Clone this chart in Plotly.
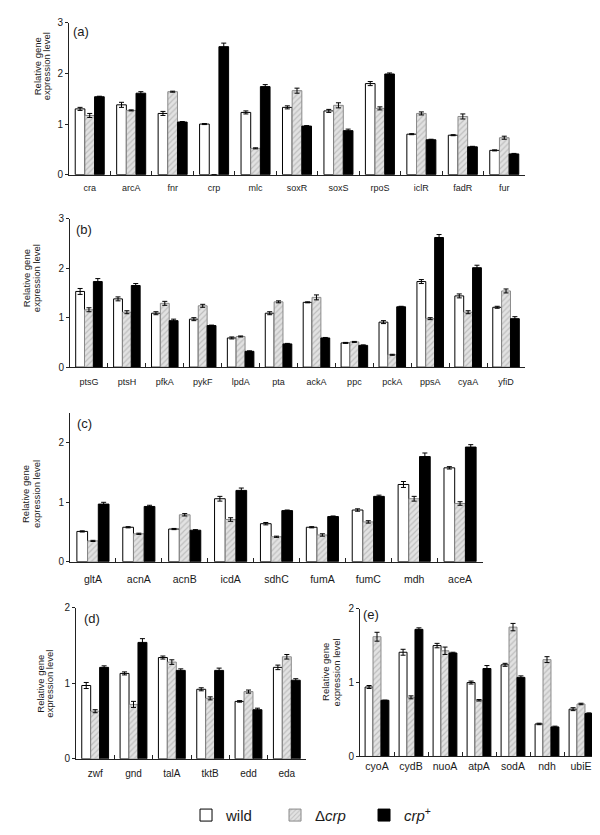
import plotly.graph_objects as go

# ---------------- data ----------------
cats_a = ["cra", "arcA", "fnr", "crp", "mlc", "soxR", "soxS", "rpoS", "iclR", "fadR", "fur"]
wild_a = [1.30, 1.38, 1.21, 1.00, 1.23, 1.33, 1.26, 1.80, 0.80, 0.78, 0.48]
dcrp_a = [1.17, 1.27, 1.64, 0.00, 0.52, 1.66, 1.37, 1.31, 1.21, 1.15, 0.73]
crpp_a = [1.54, 1.61, 1.04, 2.53, 1.74, 0.96, 0.87, 1.99, 0.69, 0.55, 0.41]
wild_a_err = [0.03, 0.05, 0.04, 0.01, 0.03, 0.03, 0.03, 0.04, 0.01, 0.01, 0.01]
dcrp_a_err = [0.04, 0.01, 0.01, 0.00, 0.01, 0.05, 0.05, 0.03, 0.03, 0.05, 0.03]
crpp_a_err = [0.01, 0.03, 0.01, 0.07, 0.04, 0.01, 0.03, 0.02, 0.01, 0.01, 0.01]

cats_b = ["ptsG", "ptsH", "pfkA", "pykF", "lpdA", "pta", "ackA", "ppc", "pckA", "ppsA", "cyaA", "yfiD"]
wild_b = [1.53, 1.38, 1.09, 0.97, 0.59, 1.09, 1.31, 0.49, 0.91, 1.73, 1.44, 1.21]
dcrp_b = [1.16, 1.11, 1.29, 1.24, 0.62, 1.32, 1.41, 0.51, 0.25, 0.98, 1.11, 1.54]
crpp_b = [1.73, 1.65, 0.94, 0.84, 0.32, 0.47, 0.59, 0.44, 1.22, 2.62, 2.01, 0.98]
wild_b_err = [0.06, 0.04, 0.03, 0.03, 0.02, 0.03, 0.01, 0.01, 0.03, 0.04, 0.04, 0.02]
dcrp_b_err = [0.04, 0.03, 0.04, 0.03, 0.01, 0.02, 0.05, 0.01, 0.01, 0.02, 0.03, 0.04]
crpp_b_err = [0.06, 0.04, 0.03, 0.01, 0.01, 0.01, 0.01, 0.01, 0.01, 0.06, 0.05, 0.04]

cats_c = ["gltA", "acnA", "acnB", "icdA", "sdhC", "fumA", "fumC", "mdh", "aceA"]
wild_c = [0.51, 0.58, 0.55, 1.06, 0.64, 0.58, 0.87, 1.30, 1.58]
dcrp_c = [0.35, 0.47, 0.79, 0.71, 0.42, 0.45, 0.67, 1.06, 0.98]
crpp_c = [0.97, 0.93, 0.53, 1.20, 0.86, 0.76, 1.10, 1.77, 1.93]
wild_c_err = [0.01, 0.01, 0.01, 0.04, 0.02, 0.01, 0.02, 0.05, 0.02]
dcrp_c_err = [0.01, 0.01, 0.02, 0.03, 0.01, 0.02, 0.02, 0.04, 0.03]
crpp_c_err = [0.03, 0.02, 0.01, 0.04, 0.01, 0.01, 0.02, 0.06, 0.04]

cats_d = ["zwf", "gnd", "talA", "tktB", "edd", "eda"]
wild_d = [0.97, 1.13, 1.34, 0.92, 0.76, 1.21]
dcrp_d = [0.63, 0.72, 1.28, 0.80, 0.89, 1.35]
crpp_d = [1.21, 1.54, 1.17, 1.17, 0.65, 1.04]
wild_d_err = [0.04, 0.02, 0.02, 0.02, 0.01, 0.03]
dcrp_d_err = [0.02, 0.04, 0.03, 0.02, 0.02, 0.03]
crpp_d_err = [0.02, 0.05, 0.02, 0.03, 0.02, 0.02]

cats_e = ["cyoA", "cydB", "nuoA", "atpA", "sodA", "ndh", "ubiE"]
wild_e = [0.94, 1.41, 1.50, 1.00, 1.24, 0.44, 0.64]
dcrp_e = [1.62, 0.80, 1.43, 0.76, 1.75, 1.31, 0.71]
crpp_e = [0.76, 1.72, 1.40, 1.19, 1.07, 0.40, 0.58]
wild_e_err = [0.02, 0.04, 0.03, 0.02, 0.02, 0.01, 0.02]
dcrp_e_err = [0.06, 0.02, 0.05, 0.01, 0.05, 0.04, 0.01]
crpp_e_err = [0.00, 0.02, 0.01, 0.04, 0.02, 0.01, 0.01]

series_names = ["wild", "Δ<i>crp</i>", "<i>crp</i><sup>+</sup>"]
y_tick_vals = [0, 1, 2, 3]

# ---------------- layout helpers ----------------
W, H = 600, 835
FONT = "Liberation Sans, Arial, sans-serif"
TXT = "#1a1a1a"

def px_x(x):
    return x / W

def px_y(y):
    return 1 - y / H

panels = [
    dict(label="(a)", cats=cats_a, vals=(wild_a, dcrp_a, crpp_a), errs=(wild_a_err, dcrp_a_err, crpp_a_err),
         box=(61, 9, 517, 163), yr=[0, 3], xfont=9, stand=5,
         lab=(73, 18), t1=(29, 53), t2=(38, 53)),
    dict(label="(b)", cats=cats_b, vals=(wild_b, dcrp_b, crpp_b), errs=(wild_b_err, dcrp_b_err, crpp_b_err),
         box=(62, 207.7, 517, 358.3), yr=[0, 3], xfont=9, stand=6,
         lab=(76, 218.5), t1=(18, 268), t2=(28, 268)),
    dict(label="(c)", cats=cats_c, vals=(wild_c, dcrp_c, crpp_c), errs=(wild_c_err, dcrp_c_err, crpp_c_err),
         box=(62, 405, 475, 555.7), yr=[0, 2.5], xfont=10.5, stand=8,
         lab=(76, 415), t1=(17, 487), t2=(28, 487)),
    dict(label="(d)", cats=cats_d, vals=(wild_d, dcrp_d, crpp_d), errs=(wild_d_err, dcrp_d_err, crpp_d_err),
         box=(68, 602.3, 298, 755.7), yr=[0, 2], xfont=10, stand=5,
         lab=(84, 613), t1=(32.5, 680), t2=(41.5, 680)),
    dict(label="(e)", cats=cats_e, vals=(wild_e, dcrp_e, crpp_e), errs=(wild_e_err, dcrp_e_err, crpp_e_err),
         box=(352, 603.3, 590, 753.3), yr=[0, 2], xfont=10.5, stand=0,
         lab=(362.5, 609), t1=(317.5, 668), t2=(328, 668)),
]

styles = [
    dict(marker=dict(color="white", line=dict(color="black", width=1))),
    dict(marker=dict(color="#d9d9d9", line=dict(color="#8a8a8a", width=1),
                     pattern=dict(shape="/", fgcolor="#9a9a9a", bgcolor="#e2e2e2", size=4, solidity=0.3))),
    dict(marker=dict(color="black", line=dict(color="black", width=1))),
]

fig = go.Figure()
layout = dict(
    width=W, height=H, margin=dict(l=0, r=0, t=0, b=0),
    paper_bgcolor="white", plot_bgcolor="white",
    barmode="group", bargap=0.3, bargroupgap=0,
    font=dict(family=FONT, color=TXT, size=10),
    legend=dict(orientation="h", x=0.2967, y=px_y(813), xanchor="left", yanchor="middle",
                font=dict(family=FONT, size=15, color=TXT), entrywidth=44, entrywidthmode="pixels",
                itemclick=False, itemdoubleclick=False),
    annotations=[],
)

for i, p in enumerate(panels):
    n = "" if i == 0 else str(i + 1)
    x0, y0, x1, y1 = p["box"]
    for k in range(3):
        fig.add_trace(go.Bar(
            x=p["cats"], y=p["vals"][k], name=series_names[k],
            xaxis="x" + n, yaxis="y" + n,
            legendgroup=str(k), showlegend=(i == 0),
            error_y=dict(type="data", array=p["errs"][k], color="black", thickness=1, width=2.5),
            **styles[k],
        ))
    layout["xaxis" + n] = dict(
        domain=[px_x(x0), px_x(x1)], anchor="y" + n, type="category",
        showline=True, linecolor="#222", linewidth=1, mirror=False,
        ticks="inside", tickson="boundaries", ticklen=4, tickcolor="#222",
        showgrid=False, zeroline=False, fixedrange=True,
        tickfont=dict(family=FONT, size=p["xfont"], color=TXT),
        ticklabelstandoff=p["stand"],
    )
    layout["yaxis" + n] = dict(
        domain=[px_y(y1), px_y(y0)], anchor="x" + n, range=p["yr"],
        tickvals=[v for v in y_tick_vals if v <= p["yr"][1]],
        showline=True, linecolor="#222", linewidth=1,
        ticks="outside", ticklen=3, tickcolor="#222",
        showgrid=False, zeroline=False, fixedrange=True,
        tickfont=dict(family=FONT, size=10, color=TXT),
    )
    layout["annotations"].append(dict(
        text=p["label"], x=px_x(p["lab"][0]), y=px_y(p["lab"][1]), xref="paper", yref="paper",
        xanchor="center", yanchor="middle", showarrow=False,
        font=dict(family=FONT, size=13, color=TXT)))
    layout["annotations"].append(dict(
        text="Relative gene", x=px_x(p["t1"][0]), y=px_y(p["t1"][1]), xref="paper", yref="paper",
        xanchor="center", yanchor="middle", showarrow=False, textangle=-90,
        font=dict(family=FONT, size=9.5, color=TXT)))
    layout["annotations"].append(dict(
        text="expression level", x=px_x(p["t2"][0]), y=px_y(p["t2"][1]), xref="paper", yref="paper",
        xanchor="center", yanchor="middle", showarrow=False, textangle=-90,
        font=dict(family=FONT, size=9.5, color=TXT)))

fig.update_layout(**layout)
fig.write_html("out.html")
